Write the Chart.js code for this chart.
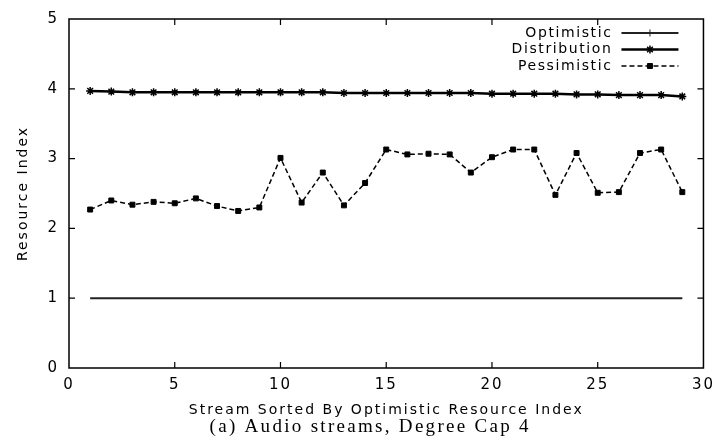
<!DOCTYPE html>
<html>
<head>
<meta charset="utf-8">
<script src="https://cdn.jsdelivr.net/npm/chart.js@4.4.0/dist/chart.umd.min.js"></script>
<style>
  html, body { margin: 0; padding: 0; background: #fff; }
  #wrap { width: 723px; height: 439px; }
</style>
</head>
<body>
<div id="wrap"><canvas id="chart"></canvas></div>
<script>
// 数据：按 Optimistic 排序后的流编号
const streamIndex = [1, 2, 3, 4, 5, 6, 7, 8, 9, 10, 11, 12, 13, 14, 15, 16, 17, 18, 19, 20, 21, 22, 23, 24, 25, 26, 27, 28, 29];
const optimistic = [1, 1, 1, 1, 1, 1, 1, 1, 1, 1, 1, 1, 1, 1, 1, 1, 1, 1, 1, 1, 1, 1, 1, 1, 1, 1, 1, 1, 1];
const distribution = [3.97, 3.96, 3.95, 3.95, 3.95, 3.95, 3.95, 3.95, 3.95, 3.95, 3.95, 3.95, 3.94, 3.94, 3.94,
  3.94, 3.94, 3.94, 3.94, 3.93, 3.93, 3.93, 3.93, 3.92, 3.92, 3.91, 3.91, 3.91, 3.89];
const pessimistic = [2.27, 2.40, 2.34, 2.38, 2.36, 2.43, 2.32, 2.25, 2.30, 3.01, 2.37, 2.80, 2.33, 2.65, 3.13,
  3.06, 3.07, 3.06, 2.80, 3.02, 3.13, 3.13, 2.48, 3.08, 2.51, 2.52, 3.08, 3.13, 2.52];
const seriesNames = ['Optimistic', 'Distribution', 'Pessimistic'];
const xTitle = 'Stream Sorted By Optimistic Resource Index';
const yTitle = 'Resource Index';
const caption = '(a) Audio streams, Degree Cap 4';

const sansFont = 'DejaVu Sans';
const toPoints = (ys) => ys.map((y, i) => ({ x: streamIndex[i], y }));

// 文字间距（原图文字被横向拉伸）
const spacingPlugin = {
  id: 'spacing',
  beforeUpdate(chart) { chart.ctx.letterSpacing = '2px'; },
  beforeDraw(chart) { chart.ctx.letterSpacing = '2px'; }
};

// 边框和向内的刻度线
const framePlugin = {
  id: 'frame',
  afterDatasetsDraw(chart) {
    const { ctx, chartArea: a, scales } = chart;
    ctx.save();
    ctx.strokeStyle = '#000';
    ctx.lineWidth = 1.5;
    ctx.strokeRect(a.left, a.top, a.right - a.left, a.bottom - a.top);
    ctx.lineWidth = 1.2;
    const len = 6;
    scales.x.ticks.forEach(t => {
      const px = scales.x.getPixelForValue(t.value);
      if (px <= a.left + 1 || px >= a.right - 1) return;
      ctx.beginPath();
      ctx.moveTo(px, a.bottom); ctx.lineTo(px, a.bottom - len);
      ctx.moveTo(px, a.top); ctx.lineTo(px, a.top + len);
      ctx.stroke();
    });
    scales.y.ticks.forEach(t => {
      const py = scales.y.getPixelForValue(t.value);
      if (py <= a.top + 1 || py >= a.bottom - 1) return;
      ctx.beginPath();
      ctx.moveTo(a.left, py); ctx.lineTo(a.left + len, py);
      ctx.moveTo(a.right, py); ctx.lineTo(a.right - len, py);
      ctx.stroke();
    });
    ctx.restore();
  }
};

// 图例：文字在左，线条样本在右
const legendMarkerRadius = [3.5, 4, 3.5];
const legendPlugin = {
  id: 'innerLegend',
  afterDraw(chart) {
    const { ctx, chartArea: a } = chart;
    ctx.save();
    ctx.letterSpacing = '1.6px';
    ctx.font = '14px "' + sansFont + '"';
    ctx.textAlign = 'right';
    ctx.textBaseline = 'middle';
    chart.data.datasets.forEach((ds, i) => {
      const y = a.top + 14 + i * 16.5;
      ctx.fillStyle = '#000';
      ctx.fillText(ds.label, a.right - 91, y);
      const x0 = a.right - 82, x1 = a.right - 25;
      ctx.strokeStyle = ds.borderColor;
      ctx.lineWidth = ds.borderWidth;
      ctx.setLineDash(ds.borderDash || []);
      ctx.beginPath();
      ctx.moveTo(x0, y); ctx.lineTo(x1, y);
      ctx.stroke();
      ctx.setLineDash([]);
      ctx.fillStyle = ds.pointBackgroundColor;
      ctx.strokeStyle = ds.pointBorderColor;
      ctx.lineWidth = ds.pointBorderWidth;
      Chart.helpers.drawPoint(ctx, {
        pointStyle: ds.pointStyle, radius: legendMarkerRadius[i], rotation: 0, borderWidth: ds.pointBorderWidth
      }, (x0 + x1) / 2, y);
    });
    ctx.restore();
  }
};

// 图下方的说明文字
const captionPlugin = {
  id: 'caption',
  afterDraw(chart) {
    const { ctx, chartArea: a } = chart;
    ctx.save();
    ctx.letterSpacing = '2.3px';
    ctx.font = '19px "Liberation Serif"';
    ctx.fillStyle = '#000';
    ctx.textAlign = 'center';
    ctx.textBaseline = 'middle';
    ctx.fillText(caption, (a.left + a.right) / 2 - 16, chart.height - 12);
    ctx.restore();
  }
};

new Chart(document.getElementById('chart').getContext('2d'), {
  type: 'line',
  data: {
    datasets: [
      {
        label: seriesNames[0],
        data: toPoints(optimistic),
        borderColor: '#222',
        borderWidth: 2,
        pointStyle: 'cross',
        pointRadius: 0,
        pointBorderWidth: 1,
        pointBorderColor: '#222',
        pointBackgroundColor: '#222'
      },
      {
        label: seriesNames[1],
        data: toPoints(distribution),
        borderColor: '#000',
        borderWidth: 2.5,
        pointStyle: 'star',
        pointRadius: 4,
        pointBorderWidth: 1.5,
        pointBorderColor: '#000',
        pointBackgroundColor: '#000'
      },
      {
        label: seriesNames[2],
        data: toPoints(pessimistic),
        borderColor: '#000',
        borderWidth: 1.5,
        borderDash: [5, 3],
        pointStyle: 'rect',
        pointRadius: 3.5,
        pointBorderWidth: 1,
        pointBorderColor: '#000',
        pointBackgroundColor: '#000'
      }
    ]
  },
  options: {
    responsive: true,
    maintainAspectRatio: false,
    animation: false,
    layout: { padding: { top: 14, right: 10, left: 0, bottom: 0 } },
    elements: { line: { tension: 0 } },
    plugins: {
      legend: { display: false },
      tooltip: { enabled: false }
    },
    scales: {
      x: {
        type: 'linear',
        min: 0,
        max: 30,
        ticks: { stepSize: 5, color: '#000', padding: 8, font: { family: sansFont, size: 15 } },
        grid: { display: false, drawTicks: false },
        border: { display: false },
        title: {
          display: true,
          text: xTitle,
          color: '#000',
          font: { family: sansFont, size: 14 },
          padding: { top: 0, bottom: 20 }
        },
        afterFit(scale) { scale.height = 71; }
      },
      y: {
        min: 0,
        max: 5,
        ticks: { stepSize: 1, color: '#000', padding: 10, font: { family: sansFont, size: 15 } },
        grid: { display: false, drawTicks: false },
        border: { display: false },
        title: {
          display: true,
          text: yTitle,
          color: '#000',
          font: { family: sansFont, size: 14 },
          padding: { top: 15, bottom: 0 }
        },
        afterFit(scale) { scale.width = 69; }
      }
    }
  },
  plugins: [spacingPlugin, framePlugin, legendPlugin, captionPlugin]
});
</script>
</body>
</html>
